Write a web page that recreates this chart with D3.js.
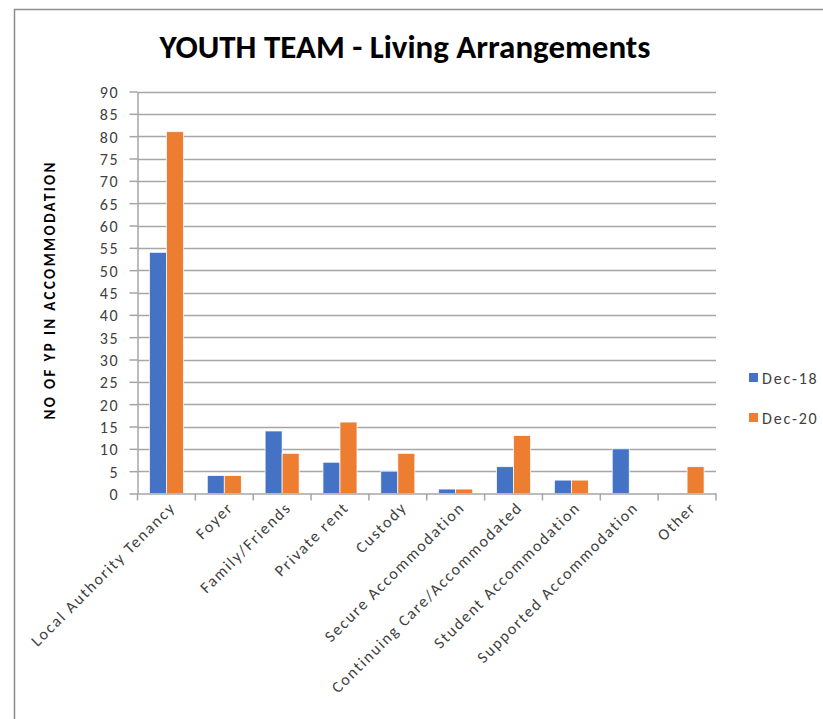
<!DOCTYPE html>
<html><head><meta charset="utf-8">
<script src="https://cdn.jsdelivr.net/npm/d3@7"></script>
<style>body{margin:0;background:#fff;}svg{display:block;}</style>
</head><body>
<script>
const categories = ["Local Authority Tenancy","Foyer","Family/Friends","Private rent","Custody","Secure Accommodation","Continuing Care/Accommodated","Student Accommodation","Supported Accommodation","Other"];
const seriesNames = ["Dec-18","Dec-20"];
const dec18 = [54,4,14,7,5,1,6,3,10,0];
const dec20 = [81,4,9,16,9,1,13,3,0,6];
const yTicks = [0,5,10,15,20,25,30,35,40,45,50,55,60,65,70,75,80,85,90];
const colors = ["#4472c4","#ed7d31"];
const title = "YOUTH TEAM - Living Arrangements";
const yTitle = "NO OF YP IN ACCOMMODATION";

(function(){
const W=823,H=719;
const font = "Carlito, Calibri, 'Open Sans', 'Liberation Sans', sans-serif";
const FS = 16, LS = 1.8;
const svg = d3.select("body").append("svg").attr("width",W).attr("height",H);
svg.append("rect").attr("width",W).attr("height",H).attr("fill","#fff");
// frame
svg.append("path").attr("d","M14.5,719 V9.5 H823").attr("fill","none").attr("stroke","#8c8c8c").attr("stroke-width",1.5);

const pl=137.5,pr=716,pt=91.5,pb=493.5;
const x = d3.scaleBand().domain(categories).range([pl,pr]).paddingInner(0).paddingOuter(0);
const y = d3.scaleLinear().domain([0,90]).range([pb,pt]);
const inner = d3.scaleBand().domain(seriesNames).range([0,x.bandwidth()]).paddingInner(0).paddingOuter(0.7);

// gridlines
svg.append("g").selectAll("line").data(yTicks.filter(d=>d>0)).join("line")
  .attr("x1",pl).attr("x2",pr).attr("y1",d=>Math.round(y(d))+0.5).attr("y2",d=>Math.round(y(d))+0.5)
  .attr("stroke","#a6a6a6").attr("stroke-width",1.5);

// y axis
const yAxis = svg.append("g").attr("transform",`translate(${pl},0)`)
  .call(d3.axisLeft(y).tickValues(yTicks).tickSize(8).tickPadding(10).tickSizeOuter(0));
yAxis.select(".domain").attr("stroke","#a6a6a6").attr("stroke-width",1.5);
yAxis.selectAll(".tick line").attr("stroke","#a6a6a6").attr("stroke-width",1.5);
yAxis.selectAll(".tick text").attr("font-family",font).attr("font-size",FS).attr("fill","#404040")
  .attr("letter-spacing",LS).attr("dy","0.38em");

// bars
const series = [dec18,dec20];
const g = svg.append("g");
categories.forEach((c,i)=>{
  series.forEach((s,j)=>{
    if(s[i]<=0) return;
    g.append("rect").attr("x",x(c)+inner(seriesNames[j])).attr("y",y(s[i]))
      .attr("width",inner.bandwidth()).attr("height",pb-y(s[i]))
      .attr("fill",colors[j]).attr("stroke","#fff").attr("stroke-width",0.75);
  });
});

// x axis
const xAxis = svg.append("g").attr("transform",`translate(0,${pb})`)
  .call(d3.axisBottom(x).tickSize(0).tickFormat(""));
xAxis.select(".domain").attr("stroke","#a6a6a6").attr("stroke-width",1.5);
xAxis.selectAll(".tick").remove();
svg.append("g").selectAll("line").data(d3.range(categories.length+1)).join("line")
  .attr("x1",d=>pl+d*x.step()).attr("x2",d=>pl+d*x.step())
  .attr("y1",pb).attr("y2",pb+7).attr("stroke","#a6a6a6").attr("stroke-width",1.5);
svg.append("g").selectAll("text").data(categories).join("text")
  .attr("transform",d=>`translate(${x(d)+x.bandwidth()/2+6},${pb+11}) rotate(-45)`)
  .attr("text-anchor","end").attr("dy","0.35em")
  .attr("font-family",font).attr("font-size",FS).attr("fill","#404040").attr("letter-spacing",LS).text(d=>d);

// title
svg.append("text").attr("x",405).attr("y",58).attr("text-anchor","middle")
  .attr("font-family",font).attr("font-weight","bold").attr("font-size",33).attr("fill","#000").text(title);

// y title
const yt = svg.append("text").attr("transform","translate(55,291) rotate(-90)").attr("text-anchor","middle")
  .attr("font-family",font).attr("font-weight","bold").attr("font-size",15).attr("fill","#000").text(yTitle);
yt.attr("textLength",257).attr("lengthAdjust","spacing");

// legend
const lg = svg.append("g");
seriesNames.forEach((n,j)=>{
  lg.append("rect").attr("x",749).attr("y",373+j*40).attr("width",9).attr("height",9).attr("fill",colors[j]);
  lg.append("text").attr("x",762).attr("y",384+j*40).attr("font-family",font).attr("font-size",FS).attr("fill","#404040").attr("letter-spacing",LS).text(n);
});
})();
</script>
</body></html>
